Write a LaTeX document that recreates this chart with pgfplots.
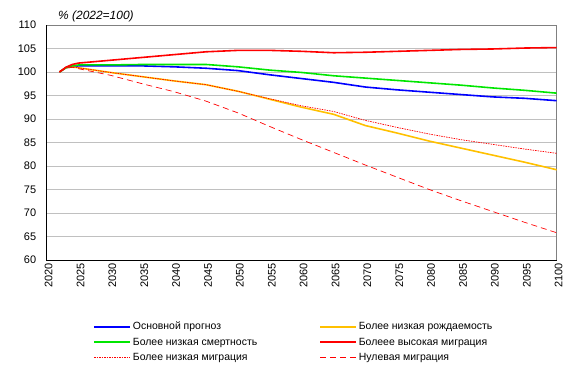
\documentclass[border=0pt]{standalone}
\usepackage{fontspec}
\setmainfont{Liberation Sans}
\usepackage{pgfplots}
\pgfplotsset{compat=1.18}
\definecolor{cBlue}{RGB}{0,0,255}
\definecolor{cGreen}{RGB}{0,230,0}
\definecolor{cYellow}{RGB}{255,192,0}
\definecolor{cRed}{RGB}{255,0,0}
\definecolor{cGrid}{RGB}{192,192,192}
\definecolor{cFrame}{RGB}{128,128,128}
\begin{document}
\begin{tikzpicture}
\begin{axis}[
  name=ax,
  scale only axis,
  width=510bp, height=235bp,
  xmin=2020, xmax=2100, ymin=60, ymax=110,
  xtick={2020,2025,...,2100},
  ytick={60,65,...,110},
  ymajorgrids, major grid style={cGrid, line width=0.8pt},
  major tick length=0pt,
  axis line style={cFrame, line width=0.8pt},
  tick label style={font=\fontsize{11}{13}\selectfont},
  /pgf/number format/assume math mode=true,
  /pgf/number format/set thousands separator={},
  x tick label style={rotate=90, anchor=east},
  xtick pos=bottom, ytick pos=left,
  every x tick label/.append style={yshift=-2bp},
  every y tick label/.append style={xshift=-7bp},
  legend columns=2,
  legend cell align=left,
  legend style={at={(0.091,-0.255)}, anchor=north west, draw=none, fill=none,
    font=\fontsize{10.5}{12}\selectfont, inner sep=0pt, row sep=2.5bp,
    /tikz/every even column/.append style={column sep=60bp}},
  legend image code/.code={\draw[#1] (0bp,0bp) -- (36bp,0bp);},
  after end axis/.code={\draw[black, line width=0.9pt] (rel axis cs:0,1) -- (rel axis cs:0,0) -- (rel axis cs:1,0);},
]
% Основной прогноз
\addplot[cBlue, line width=1.6pt] coordinates {
(2022,100) (2023,100.9) (2024,101.2) (2025,101.3) (2030,101.3) (2035,101.3) (2040,101.1) (2045,100.8) (2050,100.3) (2055,99.4) (2060,98.6) (2065,97.8) (2070,96.8) (2075,96.2) (2080,95.7) (2085,95.2) (2090,94.7) (2095,94.4) (2100,93.9)};
\addlegendentry{Основной прогноз}
% Более низкая рождаемость
\addplot[cYellow, line width=1.6pt] coordinates {
(2022,100) (2023,100.9) (2024,101.1) (2025,100.9) (2030,99.9) (2035,99.0) (2040,98.1) (2045,97.3) (2050,95.9) (2055,94.2) (2060,92.5) (2065,91.0) (2070,88.6) (2075,87.0) (2080,85.3) (2085,83.8) (2090,82.3) (2095,80.8) (2100,79.2)};
\addlegendentry{Более низкая рождаемость}
% Более низкая смертность
\addplot[cGreen, line width=1.6pt] coordinates {
(2022,100) (2023,100.9) (2024,101.3) (2025,101.5) (2030,101.5) (2035,101.6) (2040,101.6) (2045,101.6) (2050,101.1) (2055,100.4) (2060,99.9) (2065,99.2) (2070,98.7) (2075,98.2) (2080,97.7) (2085,97.2) (2090,96.6) (2095,96.1) (2100,95.5)};
\addlegendentry{Более низкая смертность}
% Болеее высокая миграция
\addplot[cRed, line width=1.6pt] coordinates {
(2022,100) (2023,101.0) (2024,101.6) (2025,101.9) (2030,102.5) (2035,103.1) (2040,103.7) (2045,104.3) (2050,104.6) (2055,104.6) (2060,104.4) (2065,104.1) (2070,104.2) (2075,104.4) (2080,104.6) (2085,104.8) (2090,104.9) (2095,105.1) (2100,105.2)};
\addlegendentry{Болеее высокая миграция}
% Более низкая миграция
\addplot[cRed, line width=0.7pt, dash pattern=on 1.5bp off 1bp] coordinates {
(2022,100) (2023,100.9) (2024,101.1) (2025,100.9) (2030,99.9) (2035,99.0) (2040,98.1) (2045,97.3) (2050,95.9) (2055,94.3) (2060,92.8) (2065,91.6) (2070,89.7) (2075,88.2) (2080,86.8) (2085,85.6) (2090,84.6) (2095,83.6) (2100,82.7)};
\addlegendentry{Более низкая миграция}
% Нулевая миграция
\addplot[cRed, line width=0.7pt, dash pattern=on 6bp off 4bp] coordinates {
(2022,100) (2023,100.8) (2024,101.0) (2025,100.7) (2030,99.3) (2035,97.5) (2040,95.8) (2045,93.8) (2050,91.3) (2055,88.4) (2060,85.6) (2065,82.9) (2070,80.2) (2075,77.6) (2080,75.0) (2085,72.6) (2090,70.3) (2095,68.0) (2100,65.8)};
\addlegendentry{Нулевая миграция}
\end{axis}
\node[anchor=base west, font=\fontsize{12}{14}\selectfont\itshape] at (ax.north west) [xshift=8bp, yshift=6bp] {\% (2022=100)};
\path (ax.south west) ++(-46.7bp,-108bp) rectangle ++(572bp,368bp);
\end{tikzpicture}
\end{document}
